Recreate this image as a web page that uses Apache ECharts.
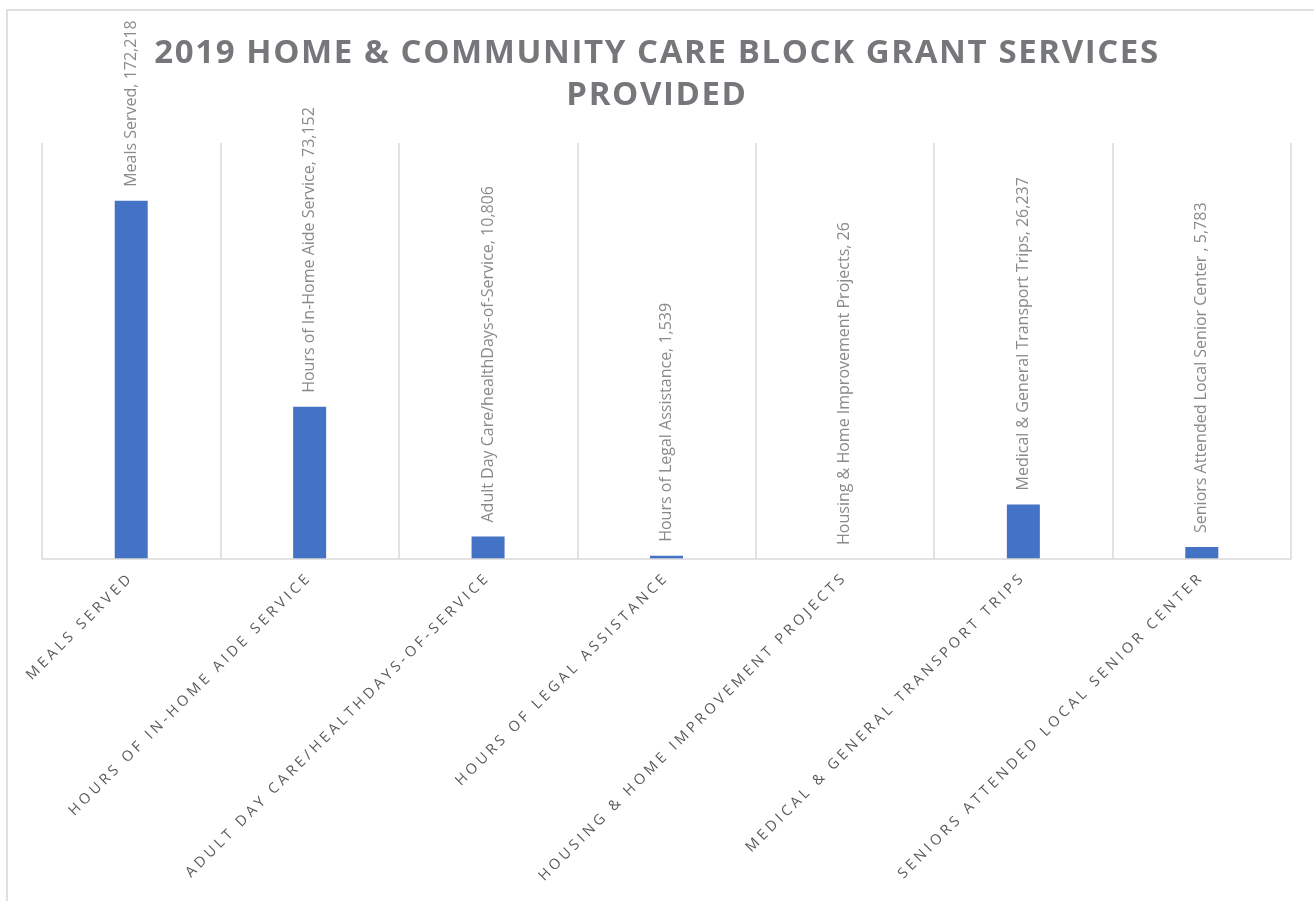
<!DOCTYPE html>
<html>
<head>
<meta charset="utf-8">
<script src="https://cdn.jsdelivr.net/npm/echarts@6/dist/echarts.min.js"></script>
<style>
  html, body { margin: 0; background: #fff; }
  #frame { position: absolute; left: 6px; top: 9px; width: 1400px; height: 1000px; border: 2px solid #e0e0e0; }
  #chart { position: absolute; left: 0; top: 0; width: 1314px; height: 901px; }
</style>
</head>
<body>
<div id="frame"></div>
<div id="chart"></div>
<script>
// service categories (the label text keeps the trailing space of the source sheet)
const categories = [
  'Meals Served',
  'Hours of In-Home Aide Service',
  'Adult Day Care/healthDays-of-Service',
  'Hours of Legal Assistance',
  'Housing & Home Improvement Projects',
  'Medical & General Transport Trips',
  'Seniors Attended Local Senior Center '
];
const services = [172218, 73152, 10806, 1539, 26, 26237, 5783];
const titleText = '2019 HOME & COMMUNITY CARE BLOCK GRANT SERVICES\nPROVIDED';

const chart = echarts.init(document.getElementById('chart'));

chart.setOption({
  animation: false,
  title: {
    text: titleText,
    left: 'center',
    top: 28,
    zlevel: 2,
    textStyle: { color: '#76777a', fontSize: 33, fontWeight: 'bold', fontFamily: 'Open Sans', lineHeight: 42 }
  },
  grid: { left: 42, right: 23, top: 143, bottom: 342 },
  xAxis: {
    type: 'category',
    data: categories,
    zlevel: 1,
    axisTick: { show: false },
    axisLine: { lineStyle: { color: '#d9d9d9', width: 1.5 } },
    splitLine: { show: true, interval: 0, lineStyle: { color: '#d9d9d9', width: 1.5 } },
    axisLabel: {
      interval: 0,
      rotate: 45,
      margin: 16,
      color: '#595959',
      fontSize: 14.5,
      fontFamily: 'Open Sans',
      formatter: v => v.trim().toUpperCase()
    }
  },
  yAxis: { type: 'value', min: 0, max: 200000, show: false },
  series: [{
    type: 'bar',
    data: services,
    barWidth: 33,
    itemStyle: { color: '#4472c4' },
    label: {
      show: true,
      position: 'top',
      rotate: 90,
      align: 'left',
      verticalAlign: 'middle',
      distance: 14,
      color: '#8a8a8a',
      fontSize: 16,
      fontFamily: 'Open Sans',
      formatter: p => p.name + ', ' + p.value.toLocaleString('en-US')
    }
  }]
});

// the source chart spaces out the letters of the title and the axis labels
const zr = chart.getZr();
const spacing = { 1: '3.6px', 2: '1.6px' };
try {
  Object.keys(spacing).forEach(z => {
    const layer = zr.painter.getLayer(+z);
    if (layer && layer.ctx) layer.ctx.letterSpacing = spacing[z];
  });
  zr.painter.refresh(true);
} catch (e) { /* plain text if the canvas can't do it */ }
</script>
</body>
</html>
